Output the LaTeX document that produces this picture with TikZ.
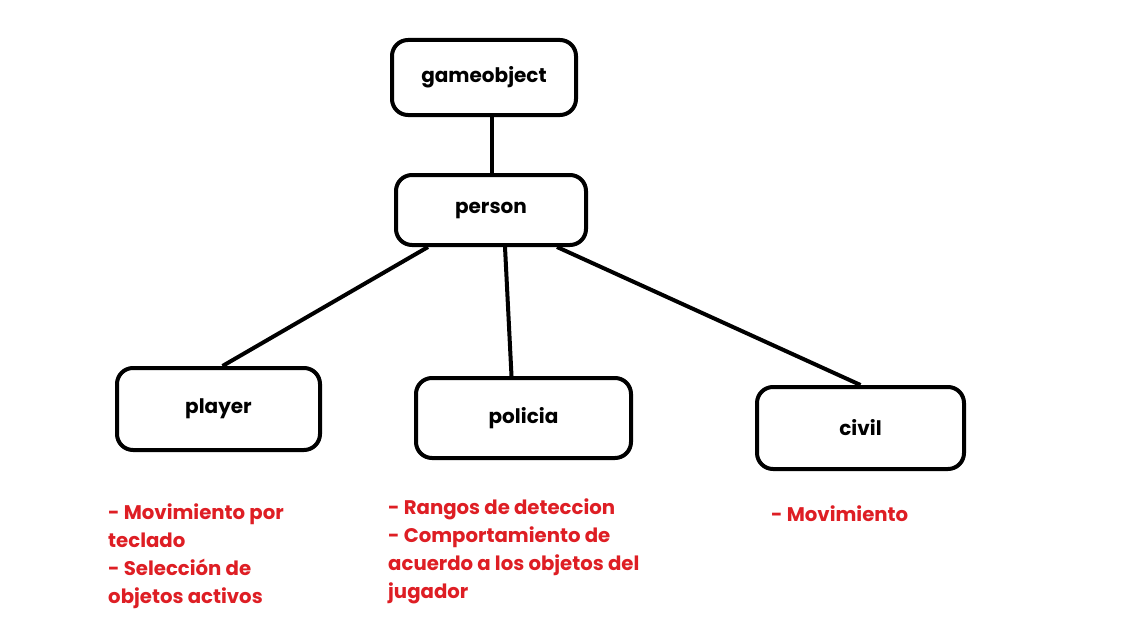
\documentclass[tikz,border=0pt]{standalone}
\usepackage{fontspec}
\setmainfont{Poppins}
\definecolor{notered}{RGB}{222,30,36}
\begin{document}
\begin{tikzpicture}[x=1pt,y=-1pt,
		box/.style={draw,line width=4pt,rounded corners=16pt,font=\fontsize{20}{23}\selectfont\bfseries},
		link/.style={line width=4pt},
		notes/.style={anchor=north west,align=left,text=notered,inner sep=0pt,font=\fontsize{19.7}{27.7}\selectfont\bfseries}]
		\useasboundingbox[fill=white] (0,0) rectangle (1143,642);
		\node[box,minimum width=184pt,minimum height=75pt] (gameobject) at (484,77.5) {gameobject};
		\node[box,minimum width=190pt,minimum height=70pt] (person) at (491,210) {person};
		\node[box,minimum width=203pt,minimum height=82pt] (player) at (218.5,409) {player};
		\node[box,minimum width=215pt,minimum height=80pt] (policia) at (523.5,418) {policia};
		\node[box,minimum width=207pt,minimum height=82pt] (civil) at (860.5,428) {civil};
		\draw[link] ([xshift=8pt]gameobject.south) -- ([xshift=1pt]person.north);
		\draw[link] ([xshift=-63pt]person.south) -- ([xshift=4pt]player.north);
		\draw[link] ([xshift=14pt]person.south) -- ([xshift=-12pt]policia.north);
		\draw[link] ([xshift=66pt]person.south) -- (civil.north);
		% notes under each class
		\node[notes] (playernotes) at (108,504) {- Movimiento por\\teclado\\- Selección de\\objetos activos};
		\node[notes] (policianotes) at (388,499) {- Rangos de deteccion\\- Comportamiento de\\acuerdo a los objetos del\\jugador};
		\node[notes] (civilnotes) at (771,506) {- Movimiento};
	\end{tikzpicture}
\end{document}
